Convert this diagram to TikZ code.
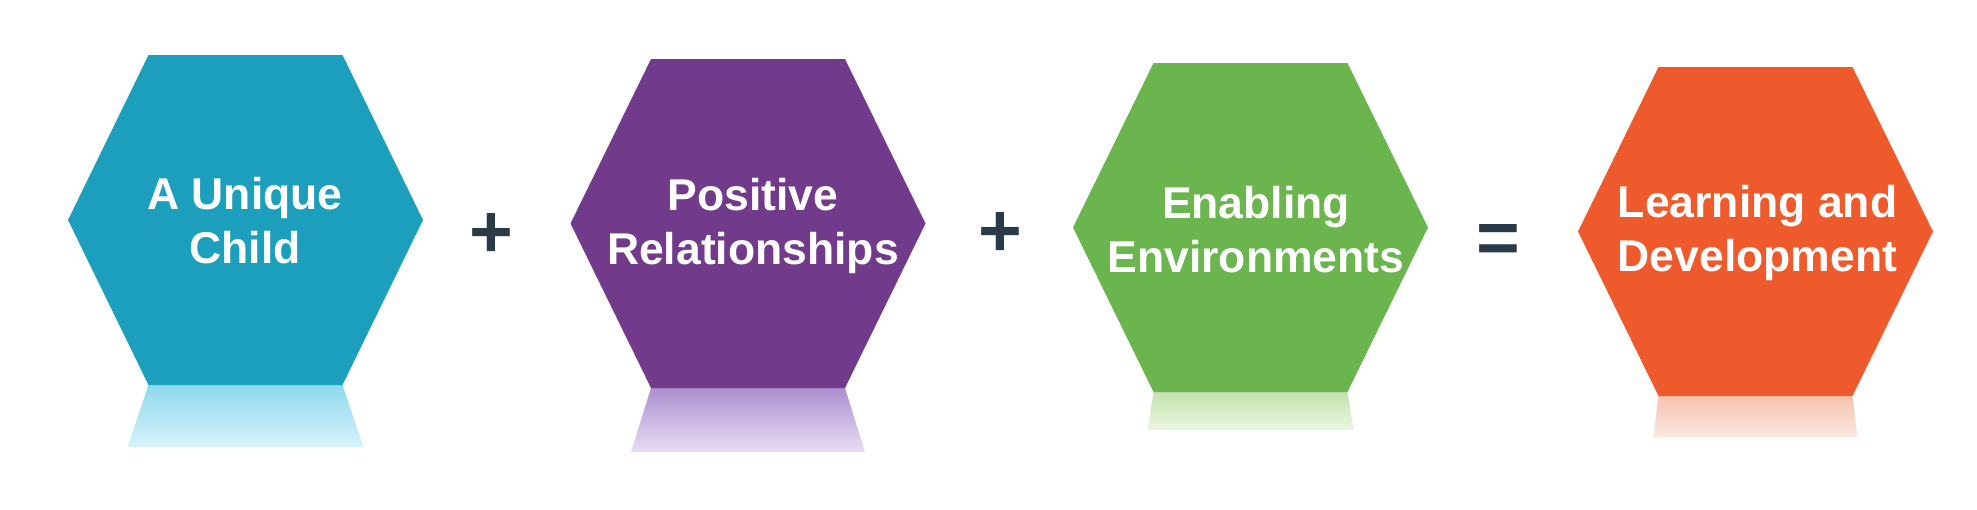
\documentclass[tikz,border=0pt]{standalone}
\usepackage{fontspec}
\setmainfont{Liberation Sans}

\definecolor{childcol}{HTML}{1B9FBC}
\definecolor{childtop}{HTML}{8FD8EC}
\definecolor{childbot}{HTML}{D8F3FA}
\definecolor{relcol}{HTML}{713A8A}
\definecolor{reltop}{HTML}{AC8FD0}
\definecolor{relbot}{HTML}{E8DDF4}
\definecolor{envcol}{HTML}{6BB54E}
\definecolor{envtop}{HTML}{C3E2AE}
\definecolor{envbot}{HTML}{EAF6E2}
\definecolor{learncol}{HTML}{EE5A2B}
\definecolor{learntop}{HTML}{F5C2AE}
\definecolor{learnbot}{HTML}{FBE8E0}
\definecolor{opcol}{HTML}{2A3B47}

\begin{document}
\begin{tikzpicture}[
        x=1pt, y=-1pt,
        hexlabel/.style={
            % The text
            align=center,
            text=white,
            inner sep=0pt,
            font=\fontsize{44.5}{54}\selectfont\bfseries
        },
        oper/.style={
            % The sign
            text=opcol,
            inner sep=0pt,
            font=\fontsize{75}{75}\selectfont\bfseries
        }]

    \useasboundingbox (0,0) rectangle (1977,509);

    % centre x / top y / bottom y / reflection depth and half width / label x and y / name / text
    \foreach \x/\ytop/\ybot/\depth/\spread/\xtext/\ytext/\hexname/\hextext in {
        245.5/55/385/62/118/245/221/child/A Unique\\Child,
        748/59/388/64/117/753/226/rel/Positive\\Relationships,
        1250.5/63/392/38/103/1256/230/env/Enabling\\Environments,
        1755.5/67/396/41/102/1757.5/233/learn/Learning and\\Development}
    {
        % The reflection
        \shade [top color=\hexname top, bottom color=\hexname bot]
            (\x-97,\ybot) -- (\x+97,\ybot) -- (\x+\spread,\ybot+\depth) -- (\x-\spread,\ybot+\depth) -- cycle;
        % The hexagon
        \fill [\hexname col] (\x-97,\ytop) -- (\x+97,\ytop) -- (\x+177.5,{(\ytop+\ybot)/2})
            -- (\x+97,\ybot) -- (\x-97,\ybot) -- (\x-177.5,{(\ytop+\ybot)/2}) -- cycle;
        \node [hexlabel] (\hexname) at (\xtext,\ytext) {\hextext};
    }

    \node [oper] (plusa) at (491.5,236) {+};
    \node [oper] (plusb) at (1000.5,235) {+};
    \node [oper] (equals) at (1498.5,244) {=};

\end{tikzpicture}
\end{document}
